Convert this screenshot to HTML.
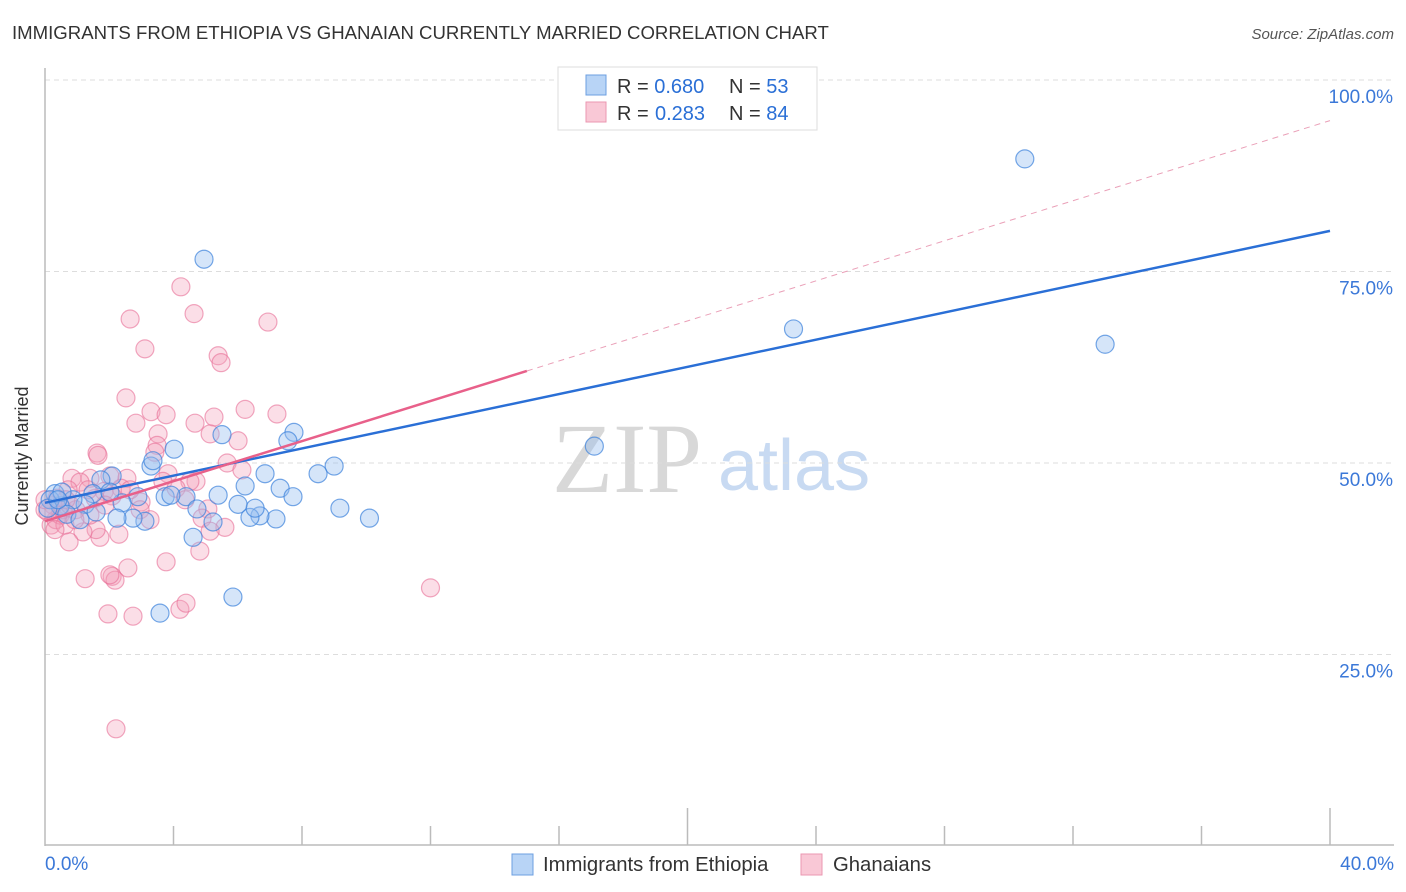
<!DOCTYPE html>
<html><head><meta charset="utf-8"><style>
body{margin:0;background:#fff;font-family:"Liberation Sans",sans-serif}
svg{display:block}
</style></head><body>
<svg id="chart" width="1406" height="892" viewBox="0 0 1406 892">
<text x="12" y="39" font-size="18.6" fill="#333">IMMIGRANTS FROM ETHIOPIA VS GHANAIAN CURRENTLY MARRIED CORRELATION CHART</text>
<text x="1394" y="39" font-size="15" fill="#555" font-style="italic" text-anchor="end">Source: ZipAtlas.com</text>
<g>
<text x="552" y="492" font-size="100" fill="#d8d8d8" font-family="Liberation Serif,serif">ZIP</text>
<text x="718" y="490" font-size="72" fill="#c8daf2">atlas</text>
</g>
<g id="grid"></g>
<g id="axes"></g>
<g id="pts"></g>
<g id="lines"></g>
<text x="28" y="456" font-size="18" fill="#333" transform="rotate(-90 28 456)" text-anchor="middle">Currently Married</text>
<g>
<rect x="558" y="67" width="259" height="63" fill="#fff" stroke="#ddd"/>
<rect x="586" y="75" width="20" height="20" fill="#b8d4f6" stroke="#6d9fe0"/>
<rect x="586" y="102" width="20" height="20" fill="#f9c8d6" stroke="#eb97b1"/>
<text x="617" y="93" font-size="20" fill="#333">R = <tspan fill="#2a6fd6">0.680</tspan><tspan x="729">N = </tspan><tspan fill="#2a6fd6">53</tspan></text>
<text x="617" y="120" font-size="20" fill="#333">R = <tspan x="655" fill="#2a6fd6">0.283</tspan><tspan x="729">N = </tspan><tspan fill="#2a6fd6">84</tspan></text>
</g>
<g>
<rect x="512" y="854" width="21" height="21" fill="#b8d4f6" stroke="#6d9fe0"/>
<text x="543" y="871" font-size="20.3" fill="#333">Immigrants from Ethiopia</text>
<rect x="801" y="854" width="21" height="21" fill="#f9c8d6" stroke="#eb97b1"/>
<text x="833" y="871" font-size="20.3" fill="#333">Ghanaians</text>
</g>
</svg>
<script>
const yTicks=[25,50,75,100];
const yTickLabels=["25.0%","50.0%","75.0%","100.0%"];
const xTicks=[0,4,8,12,16,20,24,28,32,36,40];
const xEndLabels=["0.0%","40.0%"];
const blueX=[30.5,23.3,33.0,17.1,4.95,7.75,7.56,5.51,4.02,3.30,3.36,9.0,8.5,6.85,6.23,7.32,7.72,5.39,4.39,3.74,3.92,2.89,2.40,9.18,10.1,7.19,6.69,6.38,6.54,6.01,4.73,5.23,4.61,3.11,2.74,2.24,2.09,1.74,1.49,1.25,0.87,0.47,0.31,0.16,0.68,1.59,5.85,3.58,2.02,0.09,1.09,0.53,0.40];
const blueY=[89.7,67.5,65.5,52.2,76.6,54.0,52.9,53.7,51.8,49.6,50.3,49.6,48.6,48.6,47.0,46.7,45.6,45.8,45.6,45.6,45.8,45.6,44.8,44.1,42.8,42.7,43.1,42.9,44.1,44.6,44.0,42.3,40.3,42.4,42.8,42.8,48.3,47.8,46.0,44.6,45.2,44.4,46.0,45.2,43.3,43.6,32.5,30.4,46.2,44.1,42.6,46.2,45.2];
const pinkX=[2.21,4.23,4.64,2.65,6.94,3.11,5.39,5.48,2.52,6.23,7.22,3.30,3.77,5.26,4.67,2.83,3.52,5.14,6.01,3.49,3.42,1.62,5.67,6.13,3.83,2.55,1.40,2.02,0.84,1.09,4.70,4.51,3.67,4.08,2.37,1.84,1.56,1.34,2.99,2.09,0.72,5.07,4.89,5.60,5.14,1.71,2.30,1.59,1.18,0.75,0.19,0.34,0.56,0.25,0.47,0.78,0.96,0.09,0.37,0.65,4.82,3.77,2.58,1.25,2.09,2.18,1.96,2.74,4.20,4.39,12.0,2.02,0.0,2.96,4.36,3.27,1.40,0.62,0.93,1.87,2.65,0.0,0.31,1.65];
const pinkY=[15.3,73.0,69.5,68.8,68.4,64.9,64.0,63.1,58.5,57.0,56.4,56.7,56.3,56.0,55.2,55.2,53.8,53.8,52.9,52.3,51.4,51.3,50.0,49.1,48.6,48.0,48.0,48.3,48.0,47.5,47.6,47.6,47.6,46.7,46.7,46.3,45.4,46.5,44.9,45.7,46.5,44.0,42.8,41.6,41.1,40.3,40.7,41.3,41.0,39.7,41.9,42.6,43.9,44.5,43.2,44.5,43.9,43.6,45.4,45.2,38.5,37.1,36.3,34.9,35.2,34.7,30.3,30.0,30.9,31.7,33.7,35.4,43.9,43.9,45.2,42.6,43.2,41.9,42.6,44.5,46.5,45.2,41.3,51.0];
const blueFit=[44.8,0.8875];
const pinkFit=[42.4,1.3075];
const pinkSolidEnd=15.0;

const NS="http://www.w3.org/2000/svg";
const X=v=>45+v*(1285/40);
const Y=v=>846-v*7.66;
function mk(tag,attrs,parent){const e=document.createElementNS(NS,tag);for(const k in attrs)e.setAttribute(k,attrs[k]);parent.appendChild(e);return e;}
const grid=document.getElementById('grid'),axes=document.getElementById('axes'),pts=document.getElementById('pts'),lines=document.getElementById('lines');
yTicks.forEach((t,i)=>{
 const l=mk('line',{x1:45,x2:1394,y1:Y(t),y2:Y(t),stroke:'#ddd','stroke-dasharray':'5,4'},grid);
 
 
 const tx=mk('text',{x:1393,y:Y(t)+23,'font-size':19,fill:'#3b78d8','text-anchor':'end'},grid);
 tx.textContent=yTickLabels[i];
 
 
});
const ya=mk('line',{x1:45,x2:45,y1:68,y2:846,stroke:'#bbb','stroke-width':1.5},axes);


const xa=mk('line',{x1:45,x2:1394,y1:845,y2:845,stroke:'#bbb','stroke-width':1.5},axes);


xTicks.forEach((t,i)=>{
 if(t===0)return;
 const tall=(t===20||t===40);
 const tk=mk('line',{x1:X(t),x2:X(t),y1:tall?808:826,y2:845,stroke:'#bbb','stroke-width':1.5},axes);
 
 
});
[[0,'start',45],[40,'end',1394]].forEach((d,i)=>{
 const tx=mk('text',{x:d[2],y:870,'font-size':19,fill:'#3b78d8','text-anchor':d[1]},axes);
 tx.textContent=xEndLabels[i];
 
 
});
pinkX.forEach((v,i)=>{
 const c=mk('circle',{cx:X(v),cy:Y(pinkY[i]),r:9,fill:'rgba(244,160,185,0.35)',stroke:'rgba(232,110,150,0.6)','stroke-width':1.2},pts);
 
 
});
blueX.forEach((v,i)=>{
 const c=mk('circle',{cx:X(v),cy:Y(blueY[i]),r:9,fill:'rgba(150,190,240,0.4)',stroke:'rgba(60,130,220,0.7)','stroke-width':1.2},pts);
 
 
});
const bl=mk('line',{x1:X(0),y1:Y(blueFit[0]),x2:X(40),y2:Y(blueFit[0]+blueFit[1]*40),stroke:'#2a6fd6','stroke-width':2.5},lines);


const pl=mk('line',{x1:X(0),y1:Y(pinkFit[0]),x2:X(pinkSolidEnd),y2:Y(pinkFit[0]+pinkFit[1]*pinkSolidEnd),stroke:'#e8608a','stroke-width':2.5},lines);


const pd=mk('line',{x1:X(pinkSolidEnd),y1:Y(pinkFit[0]+pinkFit[1]*pinkSolidEnd),x2:X(40),y2:Y(pinkFit[0]+pinkFit[1]*40),stroke:'#eaa0b8','stroke-width':1,'stroke-dasharray':'6,5'},lines);


</script>
</body></html>
